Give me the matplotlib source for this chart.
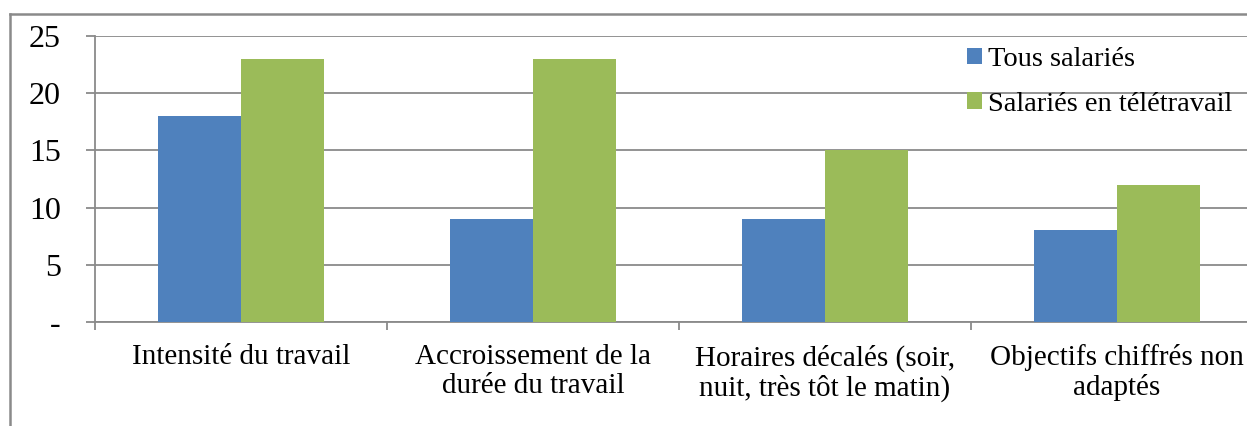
import numpy as np
import matplotlib
matplotlib.use("Agg")
import matplotlib.pyplot as plt
from matplotlib.lines import Line2D

# Données
categories = ["Intensité du travail",
              "Accroissement de la\ndurée du travail",
              "Horaires décalés (soir,\nnuit, très tôt le matin)",
              "Objectifs chiffrés non\nadaptés"]
tous_salaries = [18, 9, 9, 8]
teletravail = [23, 23, 15, 12]
series_noms = ["Tous salariés", "Salariés en télétravail"]
yticks = [0, 5, 10, 15, 20, 25]
ytick_labels = ["-", "5", "10", "15", "20", "25"]

plt.rcParams['font.family'] = ['Liberation Serif', 'DejaVu Serif']

W, H = 1247, 426
fig = plt.figure(figsize=(W / 100, H / 100), dpi=100)
ax = fig.add_axes([95 / W, (H - 322) / H, 1168 / W, 286 / H])

gris = "#8a8a8a"
x = np.arange(len(categories))
larg = 0.285
ax.bar(x - larg / 2, tous_salaries, larg, color="#4F81BD", label=series_noms[0], zorder=3)
ax.bar(x + larg / 2, teletravail, larg, color="#9BBB59", label=series_noms[1], zorder=3)

ax.set_xlim(-0.5, len(categories) - 0.5)
ax.set_ylim(0, 25)
ax.set_yticks(yticks)
ax.set_yticklabels(ytick_labels, fontsize=23)
ax.grid(axis="y", color=gris, linewidth=1.3, zorder=0)

# ticks entre les catégories, étiquettes au centre
ax.set_xticks(np.arange(len(categories) + 1) - 0.5)
ax.set_xticklabels([])
ax.set_xticks(x, minor=True)
ax.set_xticklabels(categories, minor=True, fontsize=21, linespacing=1.15)
ax.tick_params(axis="x", which="minor", length=0, pad=16)
ax.tick_params(axis="x", which="major", length=6, color=gris, width=1.3, direction="out")
ax.tick_params(axis="y", length=6.5, color=gris, width=1.3, pad=18)

for s in ["top", "right"]:
    ax.spines[s].set_visible(False)
for s in ["left", "bottom"]:
    ax.spines[s].set_color(gris)
    ax.spines[s].set_linewidth(1.3)

ax.legend(loc="upper left", bbox_to_anchor=(967 / W, 1 - 47 / H), bbox_transform=fig.transFigure,
          frameon=False, fontsize=20.5, handlelength=0.53, handleheight=0.53,
          handletextpad=0.21, labelspacing=0.7, borderpad=0, borderaxespad=0)

# cadre du graphique
fig.add_artist(Line2D([10 / W, 10 / W], [0, 1 - 14 / H], color=gris, linewidth=1.8, transform=fig.transFigure))
fig.add_artist(Line2D([10 / W, 1], [1 - 14 / H, 1 - 14 / H], color=gris, linewidth=1.8, transform=fig.transFigure))

fig.savefig("out.png", dpi=100)
